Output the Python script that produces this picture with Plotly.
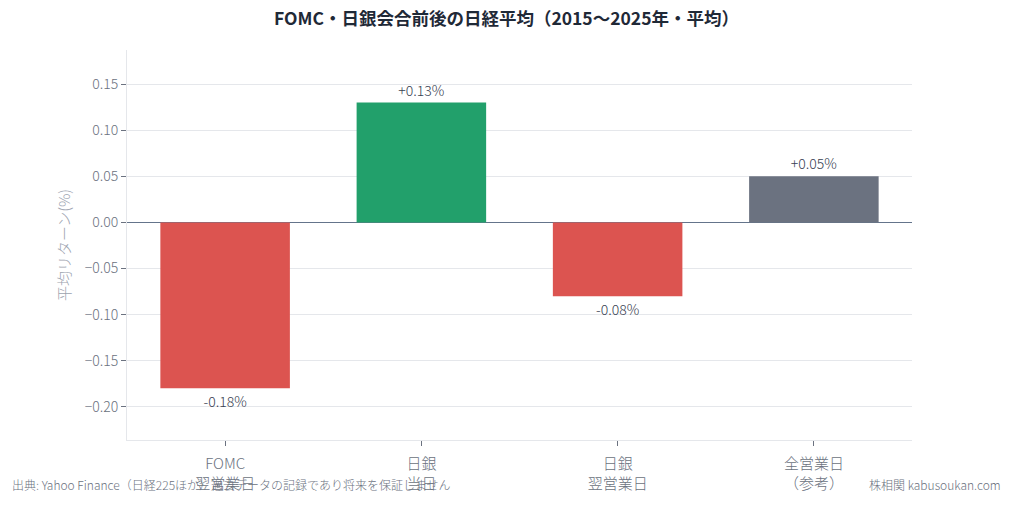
import plotly.graph_objects as go

categories = ["FOMC<br>翌営業日", "日銀<br>当日", "日銀<br>翌営業日", "全営業日<br>（参考）"]
values = [-0.18, 0.13, -0.08, 0.05]
labels = ["-0.18%", "+0.13%", "-0.08%", "+0.05%"]
colors = ["#dc5450", "#22a06b", "#dc5450", "#6b7280"]
tick_vals = [-0.20, -0.15, -0.10, -0.05, 0.0, 0.05, 0.10, 0.15]

FONT = "Noto Sans CJK JP"

fig = go.Figure(go.Bar(
    x=categories, y=values, marker_color=colors, marker_line_width=0,
    text=labels, textposition="outside", cliponaxis=False,
    textfont=dict(size=14, color="#374151", family=FONT, weight=300),
))

fig.update_layout(
    width=1013, height=508,
    margin=dict(l=127, r=101, t=50, b=68),
    paper_bgcolor="white", plot_bgcolor="white",
    font=dict(family=FONT, color="#6b7280", size=13, weight=300),
    title=dict(text="<b>FOMC・日銀会合前後の日経平均（2015〜2025年・平均）</b>",
               x=0.5, xanchor="center", y=0.975, yanchor="top",
               font=dict(size=17.5, color="#1f2937", family=FONT)),
    bargap=0.34,
    showlegend=False,
)
fig.update_yaxes(
    range=[-0.236, 0.187], tickvals=tick_vals, tickformat=".2f",
    showgrid=True, gridcolor="#e5e7eb", gridwidth=1,
    zeroline=True, zerolinecolor="#64748b", zerolinewidth=1.4,
    showline=True, linecolor="#e5e7eb", linewidth=1,
    ticks="outside", tickcolor="#6b7280", ticklen=5,
    title=dict(text="平均リターン(%)", font=dict(size=15, color="#9ca3af", weight=300), standoff=10),
    tickfont=dict(size=14, color="#6b7280", weight=300),
)
fig.update_xaxes(
    showline=True, linecolor="#e5e7eb", linewidth=1,
    ticks="outside", tickcolor="#6b7280", ticklen=5, ticklabelstandoff=5,
    tickfont=dict(size=15, color="#6b7280", weight=300),
)
fig.add_annotation(text="出典: Yahoo Finance（日経225ほか）過去データの記録であり将来を保証しません",
                   xref="paper", yref="paper", x=-0.149, y=-0.113, xanchor="left", yanchor="middle",
                   showarrow=False, font=dict(size=12, color="#6b7280", weight=300))
fig.add_annotation(text="株相関 kabusoukan.com",
                   xref="paper", yref="paper", x=1.116, y=-0.113, xanchor="right", yanchor="middle",
                   showarrow=False, font=dict(size=12, color="#6b7280", weight=300))

fig.write_html("out.html")
